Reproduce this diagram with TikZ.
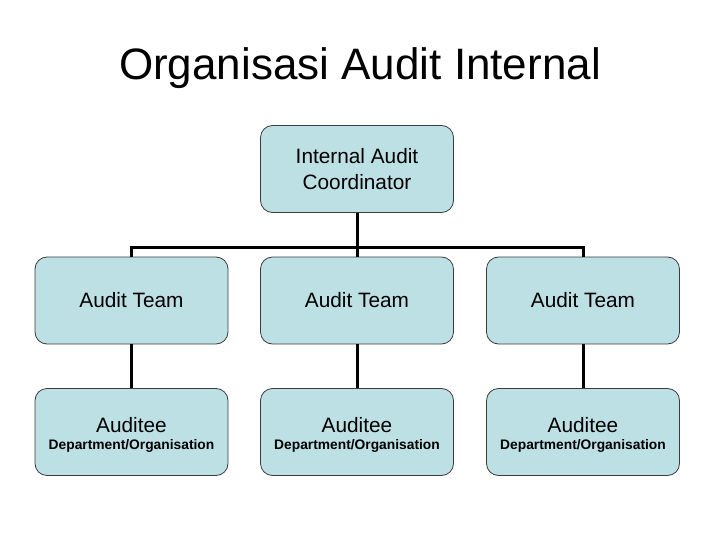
\documentclass[tikz,border=0pt]{standalone}
\usepackage{fontspec}
\setmainfont{Liberation Sans}
\definecolor{boxfill}{RGB}{189,224,229}
\definecolor{boxline}{RGB}{60,60,60}
\begin{document}
\begin{tikzpicture}[x=1pt,y=-1pt,
  orgbox/.style={draw=boxline, line width=0.8pt, fill=boxfill, rounded corners=12pt,
    minimum width=193pt, minimum height=87pt, inner sep=0pt, align=center,
    font=\fontsize{20.8}{25.5}\selectfont},
  link/.style={line width=3pt, draw=black}]
\useasboundingbox (0,0) rectangle (720,540);
\node[font=\fontsize{44}{50}\selectfont] (title) at (360,68) {Organisasi Audit Internal};
\node[orgbox] (coord) at (357,169) {Internal Audit\\Coordinator};
\node[orgbox] (t1) at (131.5,300.5) {Audit Team};
\node[orgbox] (t2) at (357,300.5) {Audit Team};
\node[orgbox] (t3) at (583,300.5) {Audit Team};
\newcommand{\audtext}{\rule{0pt}{21pt}Auditee\\[-9pt]{\fontsize{13.8}{16}\selectfont\bfseries Department/Organisation}}
\node[orgbox] (a1) at (131.5,432) {\audtext};
\node[orgbox] (a2) at (357,432) {\audtext};
\node[orgbox] (a3) at (583,432) {\audtext};
\coordinate (j) at (357,247);
\draw[link] (coord.south) -- (j);
\draw[link] (t1.north) |- (j) -| (t3.north);
\draw[link] (j) -- (t2.north);
\draw[link] (t1.south) -- (a1.north);
\draw[link] (t2.south) -- (a2.north);
\draw[link] (t3.south) -- (a3.north);
\end{tikzpicture}
\end{document}
